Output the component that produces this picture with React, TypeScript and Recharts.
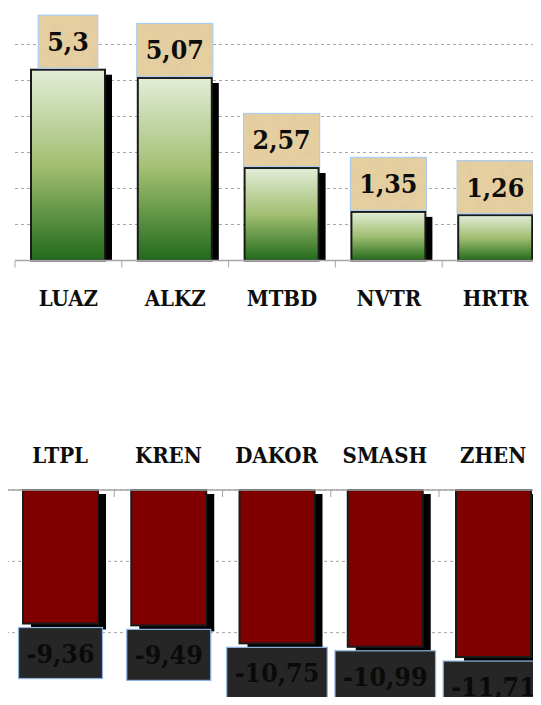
import { Bar, BarChart, CartesianGrid, LabelList, XAxis, YAxis } from "recharts";

const topCategories = ["LUAZ", "ALKZ", "MTBD", "NVTR", "HRTR"];
const topValues = [5.3, 5.07, 2.57, 1.35, 1.26];
const topTicks = [0, 1, 2, 3, 4, 5, 6];

const bottomCategories = ["LTPL", "KREN", "DAKOR", "SMASH", "ZHEN"];
const bottomValues = [-9.36, -9.49, -10.75, -10.99, -11.71];
const bottomTicks = [-15, -10, -5, 0];

const topData = topCategories.map((name, i) => ({ name, value: topValues[i] }));
const bottomData = bottomCategories.map((name, i) => ({ name, value: bottomValues[i] }));

const FONT = "'DejaVu Serif Condensed', 'DejaVu Serif', serif";
const W = 560;
const TOP_BAND = 106.8;
const BOTTOM_BAND = 108.25;
const VALUE_SIZE = 26.5;

let ctx: CanvasRenderingContext2D | null = null;
function textWidth(s: string, size: number) {
  if (!ctx) ctx = document.createElement("canvas").getContext("2d");
  if (!ctx) return s.length * size * 0.6;
  ctx.font = `bold ${size}px ${FONT}`;
  return ctx.measureText(s).width;
}

const fmt = (v: number) => String(v).replace(".", ",");

function box(r: any) {
  const y = Math.min(r.y, r.y + r.height);
  const h = Math.abs(r.height);
  return { x: r.x, y, w: r.width, h };
}

function makeTick(band: number, labelDy: number, count: number) {
  return (props: any) => {
    const { x, y, payload, index } = props;
    return (
      <g>
        <line x1={x - band / 2} y1={y} x2={x - band / 2} y2={y + 7} stroke="#a6a6a6" />
        {index === count - 1 && (
          <line x1={x + band / 2} y1={y} x2={x + band / 2} y2={y + 7} stroke="#a6a6a6" />
        )}
        <text
          x={x}
          y={y + labelDy}
          textAnchor="middle"
          fontFamily={FONT}
          fontWeight="bold"
          fontSize={22}
          fill="#0d0d0d"
        >
          {payload.value}
        </text>
      </g>
    );
  };
}

const GreenBar = (props: any) => {
  const { x, y, w, h } = box(props);
  return (
    <g>
      <rect x={x + 7} y={y + 5} width={w} height={Math.max(h - 5, 0)} fill="#000" />
      <rect x={x} y={y} width={w} height={h} fill="url(#greenGrad)" stroke="#1a1a1a" strokeWidth={2} />
    </g>
  );
};

const RedBar = (props: any) => {
  const { x, y, w, h } = box(props);
  return (
    <g>
      <rect x={x + 8} y={y + 4} width={w} height={h + 2} fill="#000" />
      <rect x={x} y={y} width={w} height={h} fill="#800000" stroke="#1a1a1a" strokeWidth={2} />
    </g>
  );
};

const TopLabel = (props: any) => {
  const r = props.viewBox && props.viewBox.width !== undefined ? props.viewBox : props;
  const { x, y, w } = box(r);
  const s = fmt(props.value);
  const bw = textWidth(s, VALUE_SIZE) + 18;
  const cx = x + w / 2;
  const bh = 53;
  const by = y - 1.5 - bh;
  return (
    <g>
      <rect x={cx - bw / 2} y={by} width={bw} height={bh} fill="#e6cf9f" />
      <rect x={cx - bw / 2} y={by} width={bw} height={bh} fill="#c9a56a" filter="url(#parch)" />
      <rect x={cx - bw / 2} y={by} width={bw} height={bh} fill="none" stroke="#a9cdf0" strokeWidth={1.2} />
      <text x={cx} y={by + bh / 2 + 9.5} textAnchor="middle" fontFamily={FONT} fontWeight="bold" fontSize={VALUE_SIZE} fill="#0d0d0d">
        {s}
      </text>
    </g>
  );
};

const BottomLabel = (props: any) => {
  const r = props.viewBox && props.viewBox.width !== undefined ? props.viewBox : props;
  const { x, y, w, h } = box(r);
  const s = fmt(props.value);
  const bw = textWidth(s, VALUE_SIZE) + 16;
  const cx = x + w / 2;
  const bh = 51;
  const by = y + h + 4;
  return (
    <g>
      <rect x={cx - bw / 2} y={by} width={bw} height={bh} fill="#262626" stroke="#8db3e2" strokeWidth={1.2} />
      <text x={cx} y={by + bh / 2 + 9.5} textAnchor="middle" fontFamily={FONT} fontWeight="bold" fontSize={VALUE_SIZE} fill="#0a0a0a">
        {s}
      </text>
    </g>
  );
};

export default function App() {
  return (
    <div style={{ margin: -8, width: 541, height: 705, position: "relative", overflow: "hidden", background: "#fff" }}>
      <div style={{ position: "absolute", left: 0, top: 0 }}>
        <BarChart
          width={W}
          height={320}
          data={topData}
          margin={{ top: 44.5, right: W - 15 - TOP_BAND * 5, left: 15, bottom: 19.5 }}
        >
          <defs>
            <linearGradient id="greenGrad" x1="0" y1="0" x2="0" y2="1">
              <stop offset="0%" stopColor="#e3edd8" />
              <stop offset="50%" stopColor="#a2bf72" />
              <stop offset="100%" stopColor="#216a1a" />
            </linearGradient>
            <filter id="parch" x="0" y="0" width="100%" height="100%">
              <feTurbulence type="fractalNoise" baseFrequency="0.12" numOctaves={3} seed={4} />
              <feColorMatrix type="matrix" values="0 0 0 0 0.72  0 0 0 0 0.58  0 0 0 0 0.36  0.9 0 0 0 -0.3" />
            </filter>
          </defs>
          <CartesianGrid vertical={false} stroke="#a6a6a6" strokeDasharray="3 3" />
          <YAxis hide domain={[0, 6]} ticks={topTicks} />
          <XAxis
            dataKey="name"
            height={40}
            axisLine={{ stroke: "#a6a6a6", strokeWidth: 1.5 }}
            tickLine={false}
            tickSize={0}
            tickMargin={0}
            interval={0}
            tick={makeTick(TOP_BAND, 45.5, topCategories.length)}
          />
          <Bar dataKey="value" barSize={74} shape={GreenBar} isAnimationActive={false}>
            <LabelList dataKey="value" content={TopLabel} />
          </Bar>
        </BarChart>
      </div>
      <div style={{ position: "absolute", left: 0, top: 400 }}>
        <BarChart
          width={W}
          height={310}
          data={bottomData}
          margin={{ top: 20, right: W - 6 - BOTTOM_BAND * 5, left: 6, bottom: 6 }}
        >
          <CartesianGrid vertical={false} stroke="#a6a6a6" strokeDasharray="3 3" />
          <YAxis hide domain={[-15, 0]} ticks={bottomTicks} />
          <XAxis
            dataKey="name"
            orientation="top"
            height={70}
            axisLine={{ stroke: "#a6a6a6", strokeWidth: 1.5 }}
            tickLine={false}
            tickSize={0}
            tickMargin={0}
            interval={0}
            tick={makeTick(BOTTOM_BAND, -27, bottomCategories.length)}
          />
          <Bar dataKey="value" barSize={75} shape={RedBar} isAnimationActive={false}>
            <LabelList dataKey="value" content={BottomLabel} />
          </Bar>
        </BarChart>
      </div>
    </div>
  );
}
